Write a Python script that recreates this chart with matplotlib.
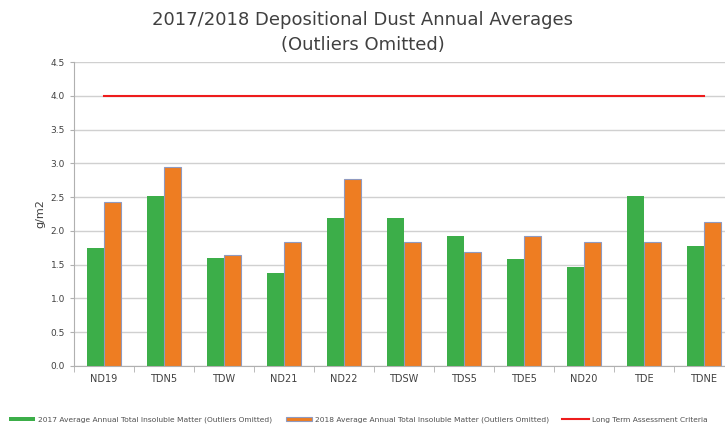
import numpy as np
import matplotlib.pyplot as plt

sites = ["ND19", "TDN5", "TDW", "ND21", "ND22", "TDSW", "TDS5", "TDE5", "ND20", "TDE", "TDNE"]
avg_2017 = [1.74, 2.52, 1.60, 1.38, 2.19, 2.19, 1.93, 1.59, 1.46, 2.52, 1.78]
avg_2018 = [2.43, 2.94, 1.65, 1.84, 2.77, 1.84, 1.68, 1.92, 1.84, 1.84, 2.13]
criteria = [4.0] * len(sites)

fig = plt.figure(figsize=(7.25, 4.28), dpi=100)
ax = fig.add_axes([0.102, 0.145, 0.91, 0.71])

x = np.arange(len(sites))
w = 0.285
b1 = ax.bar(x - w / 2, avg_2017, w, color="#3cae49", zorder=3,
            label="2017 Average Annual Total Insoluble Matter (Outliers Omitted)")
b2 = ax.bar(x + w / 2, avg_2018, w, color="#ee7d22", edgecolor="#8f9ac0", linewidth=0.8, zorder=3,
            label="2018 Average Annual Total Insoluble Matter (Outliers Omitted)")
ln, = ax.plot(x, criteria, color="#ee1c1c", linewidth=1.5, zorder=4,
              label="Long Term Assessment Criteria")

ax.set_xlim(-0.5, len(sites) - 0.5)
ax.set_ylim(0, 4.5)
ax.set_yticks(np.arange(0, 4.51, 0.5))
ax.set_yticklabels([f"{v:.1f}" for v in np.arange(0, 4.51, 0.5)])
ax.set_xticks(x)
ax.set_xticklabels(sites)
ax.set_xticks(np.arange(-0.5, len(sites), 1), minor=True)
ax.tick_params(axis="x", which="major", length=0, labelsize=7, colors="#404040", pad=6)
ax.tick_params(axis="x", which="minor", length=4, color="#b0b0b0")
ax.tick_params(axis="y", length=3, color="#b0b0b0", labelsize=6.5, labelcolor="#404040")

ax.grid(axis="y", color="#d0d0d0", linewidth=1, zorder=0)
for s in ["top", "right"]:
    ax.spines[s].set_visible(False)
for s in ["left", "bottom"]:
    ax.spines[s].set_color("#b0b0b0")

ax.set_ylabel("g/m2", fontsize=8, color="#404040", labelpad=4)
fig.suptitle("2017/2018 Depositional Dust Annual Averages\n(Outliers Omitted)",
             fontsize=13, color="#404040", y=0.975, linespacing=1.5)

leg = fig.legend(handles=[b1, b2, ln], loc="center left", bbox_to_anchor=(0.012, 0.019), ncol=3,
                 frameon=False, fontsize=5.4, handlelength=3.5, handleheight=0.6,
                 handletextpad=0.4, columnspacing=1.8, labelcolor="#505050",
                 borderaxespad=0, borderpad=0)

fig.savefig("out.png", dpi=100)
